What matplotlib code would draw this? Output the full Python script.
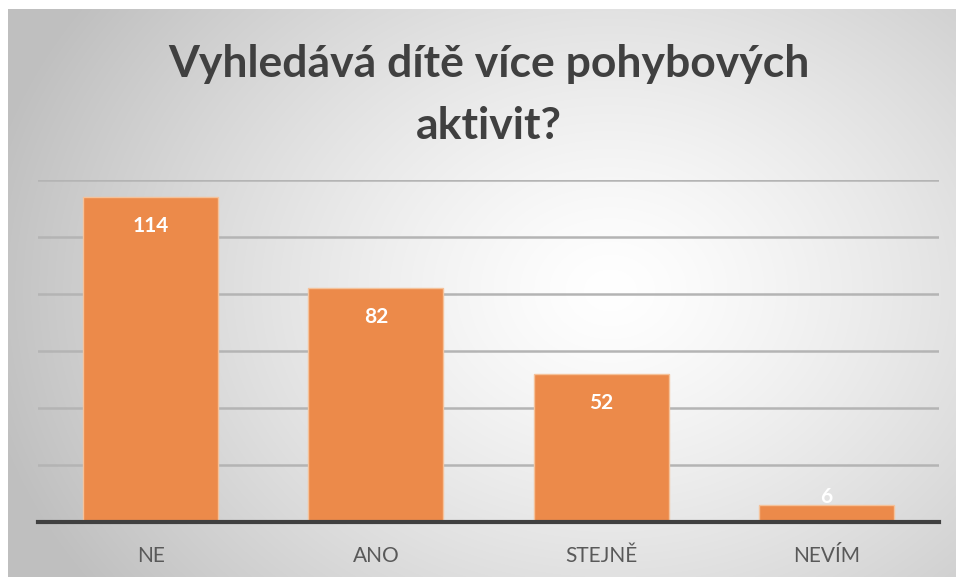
import numpy as np
import matplotlib.pyplot as plt

categories = ["NE", "ANO", "STEJNĚ", "NEVÍM"]
values = [114, 82, 52, 6]
title = "Vyhledává dítě více pohybových\naktivit?"

plt.rcParams["font.family"] = ["Lato", "DejaVu Sans"]

W, H = 956, 577
fig = plt.figure(figsize=(W / 100, H / 100), dpi=100)
fig.patch.set_facecolor("white")

# radial gradient background of the chart area
bg = fig.add_axes([8 / W, 0, (W - 8) / W, (H - 9) / H], zorder=0)
yy, xx = np.mgrid[9:H, 8:W]
r = np.hypot(xx - 610, (yy - 290) * 1.25) / 640
r = np.clip(r, 0, 1)
shade = 1.0 - 0.25 * r ** 1.3
img = np.dstack([shade, shade, shade])
bg.imshow(img, aspect="auto", extent=[0, 1, 0, 1], interpolation="bilinear")
bg.set_axis_off()

ax = fig.add_axes([38 / W, 55 / H, 901 / W, 342 / H], zorder=1)
ax.set_facecolor("none")
x = np.arange(len(categories))
bars = ax.bar(x, values, width=0.6, color="#EC8A4A", edgecolor="#F5C29A",
              linewidth=1, zorder=3)

ax.set_xlim(-0.5, len(categories) - 0.5)
ax.set_ylim(0, 120)
ax.set_yticks(np.arange(0, 121, 20))
ax.yaxis.grid(True, color="#B4B4B4", linewidth=1.8, zorder=1)
ax.tick_params(axis="y", left=False, labelleft=False)
ax.tick_params(axis="x", length=0, pad=17, labelsize=15, labelcolor="#595959")
ax.set_xticks(x)
ax.set_xticklabels(categories)
for s in ["top", "right", "left"]:
    ax.spines[s].set_visible(False)
ax.spines["bottom"].set_color("#404040")
ax.spines["bottom"].set_linewidth(3)
ax.spines["bottom"].set_zorder(4)

for b, v in zip(bars, values):
    cx = b.get_x() + b.get_width() / 2
    off = -21 if v > 20 else 6
    ax.annotate(str(v), (cx, v), xytext=(0, off), textcoords="offset points",
                ha="center", va="center", color="white", fontsize=15,
                fontweight="bold", zorder=5)

fig.text(489 / W, 1 - 95 / H, title, ha="center", va="center", fontsize=32,
         fontweight="bold", color="#404040", linespacing=1.65)

fig.savefig("out.png", dpi=100)
